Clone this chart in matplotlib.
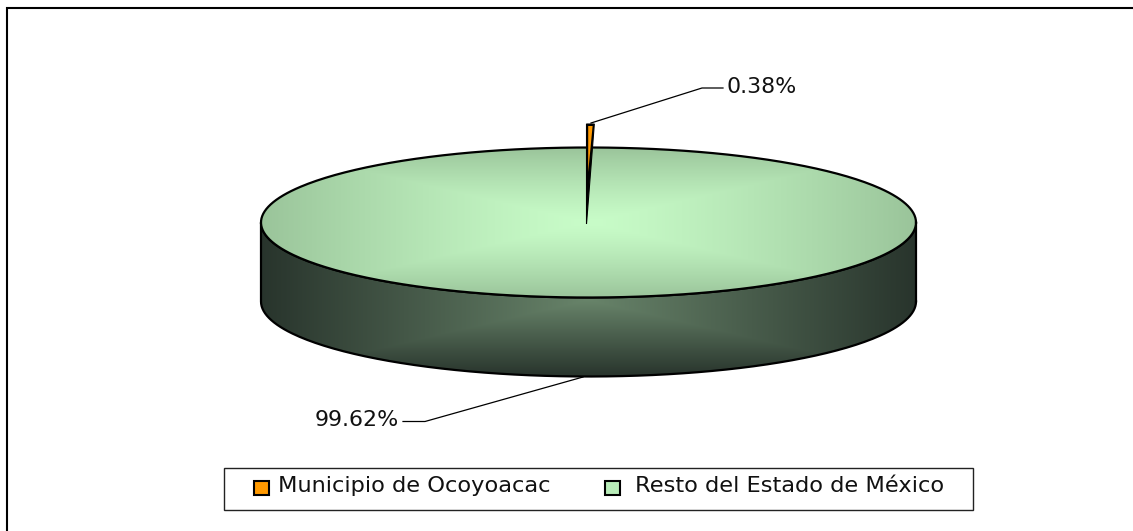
import numpy as np
from matplotlib import pyplot as plt
from matplotlib.patches import PathPatch, Rectangle
from matplotlib.path import Path

plt.rcParams["font.family"] = ["DejaVu Sans"]

labels = ["Municipio de Ocoyoacac", "Resto del Estado de México"]
shares = [0.38, 99.62]
value_labels = ["0.38%", "99.62%"]
slice_color = "#FF9900"
legend_colors = ["#FF9900", "#B8ECB8"]

W, H = 1133, 531
cx, cy = 588.5, 222.5
a, b = 327.5, 75
depth = 79


def rect_gradient(x, y, x0, y0, rx, ry, inner, outer, power=1.3):
    # rectangular "from centre" fill, like the office chart it comes from
    t = np.maximum(np.abs(x - x0) / rx, np.abs(y - y0) / ry).clip(0, 1) ** power
    inner = np.array(inner) / 255
    outer = np.array(outer) / 255
    return inner + (outer - inner) * t[..., None]


fig = plt.figure(figsize=(W / 100, H / 100), dpi=100)
ax = fig.add_axes([0, 0, 1, 1])
ax.axis("off")

# only the top and left edge of the outer frame are in the picture
ax.plot([7, 7, W], [H, 8, 8], color="black", lw=1.5, solid_joinstyle="miter")

px, py = np.meshgrid(np.arange(W) + 0.5, np.arange(H) + 0.5)

# side wall
th = np.linspace(0, np.pi, 200)
side_x = np.r_[cx + a * np.cos(th), cx + a * np.cos(th[::-1])]
side_y = np.r_[cy + depth + b * np.sin(th), cy + b * np.sin(th[::-1])]
side = PathPatch(Path(np.c_[side_x, side_y]), fc="none", ec="none")
ax.add_patch(side)
img = ax.imshow(rect_gradient(px, py, cx, 300, a, 76, (104, 132, 106), (40, 52, 44), power=1),
                extent=(0, W, H, 0), interpolation="bilinear", zorder=2)
img.set_clip_path(side)
ax.plot(np.r_[side_x, side_x[0]], np.r_[side_y, side_y[0]], color="black", lw=1.6, zorder=3)

# top face
th = np.linspace(0, 2 * np.pi, 400)
top_x, top_y = cx + a * np.cos(th), cy + b * np.sin(th)
top = PathPatch(Path(np.c_[top_x, top_y]), fc="none", ec="none")
ax.add_patch(top)
img = ax.imshow(rect_gradient(px, py, cx, cy, a, b, (200, 252, 200), (154, 196, 154)),
                extent=(0, W, H, 0), interpolation="bilinear", zorder=4)
img.set_clip_path(top)
ax.plot(top_x, top_y, color="black", lw=1.6, zorder=5)

# exploded slice, its width comes from the share
sweep = np.deg2rad(shares[0] / 100 * 360)
tip_x, tip_y = cx - 2, 224
sl_w = a * np.sin(sweep)
ax.fill([tip_x, tip_x + sl_w, tip_x], [tip_y, 124, 124], color="black", lw=0.8, zorder=6)
ax.fill([tip_x + 1.7, tip_x + sl_w - 1.7, tip_x + 1.7], [172, 126, 126], color=slice_color, lw=0, zorder=7)

# leader lines
ax.plot([591, 702, 723], [123, 88, 88], color="black", lw=0.9, zorder=7)
ax.plot([583, 425, 403], [377, 421.5, 421.5], color="black", lw=0.9, zorder=7)
ax.text(727, 87, value_labels[0], fontsize=15.9, va="center", ha="left", color="#111111", zorder=8)
ax.text(399, 420, value_labels[1], fontsize=15.9, va="center", ha="right", color="#111111", zorder=8)

# legend box, swatches have uneven gaps so it is laid out by hand
ax.add_patch(Rectangle((223.5, 467.5), 749, 42, fc="white", ec="#222222", lw=1, zorder=9))
for sw_x, txt_x, color, label in zip([254, 605], [278, 635], legend_colors, labels):
    ax.add_patch(Rectangle((sw_x, 480.5), 15, 14, fc=color, ec="black", lw=1.5, zorder=10))
    ax.text(txt_x, 486, label, fontsize=16.2, va="center", ha="left", color="#111111", zorder=10)

ax.set_xlim(0, W)
ax.set_ylim(H, 0)

fig.savefig("out.png", dpi=100)
